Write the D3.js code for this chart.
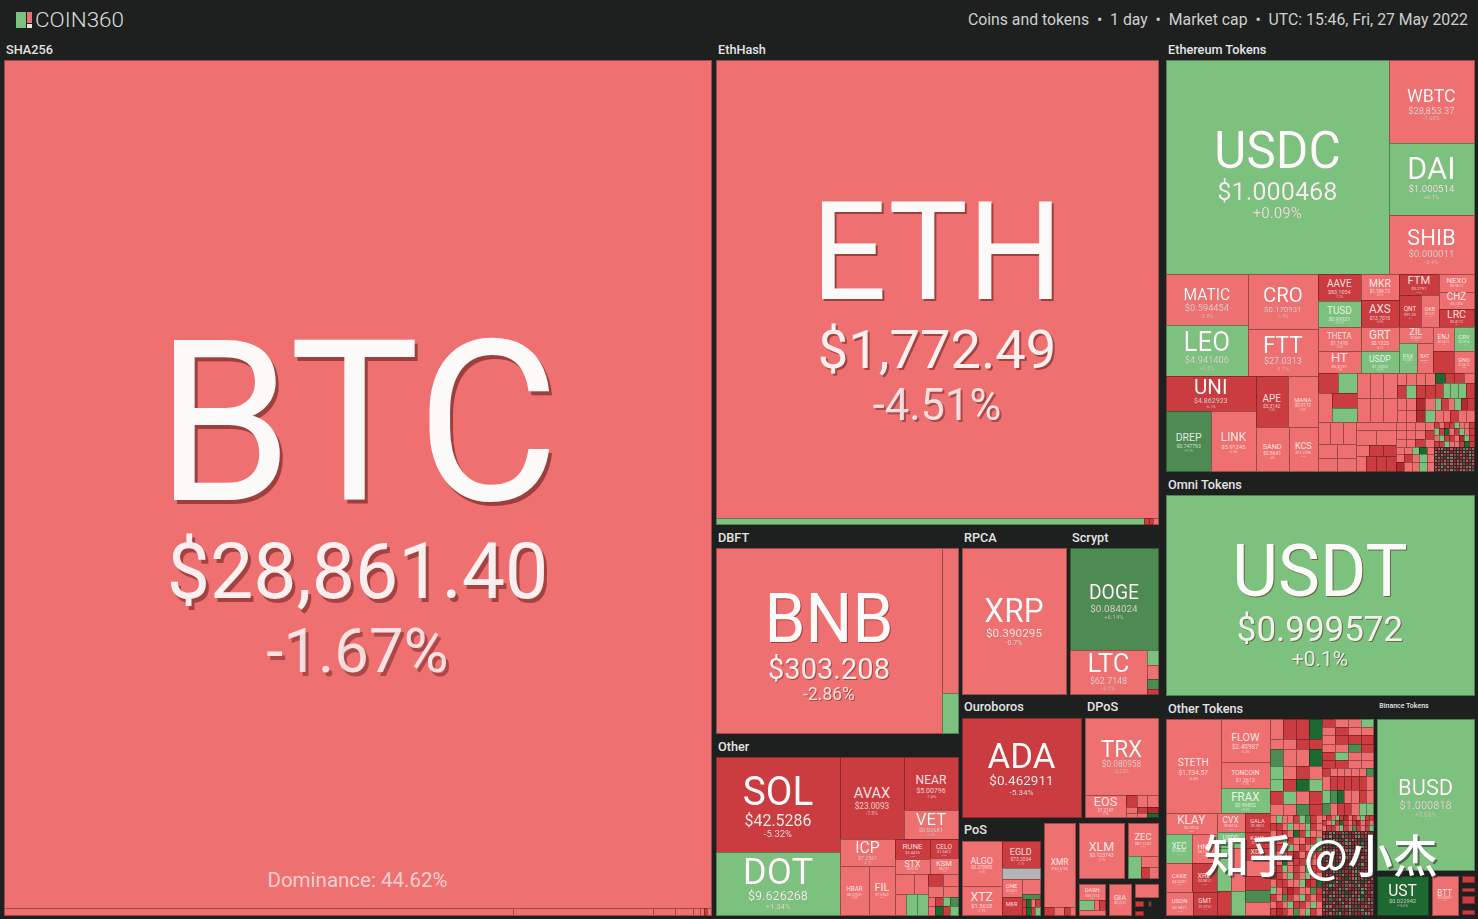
<!DOCTYPE html>
<html>
<head>
<meta charset="utf-8">
<title>COIN360 market map</title>
<script src="https://cdnjs.cloudflare.com/ajax/libs/d3/7.8.5/d3.min.js"></script>
<style>
  html,body{margin:0;padding:0;background:#1e2020;overflow:hidden}
  svg{display:block}
  text{font-family:Roboto,"Noto Sans",sans-serif}
</style>
</head>
<body>
<script>
// ---- sector sizes (market-cap units, sector box including its heading) ----
const sectorCaps = {SHA256:625848, MidColumn:395550, TokenColumn:275127, EthHash:218624, DBFT:51646, OtherCoins:44972, RPCA:18442, Scrypt:15709,
  Ouroboros:15197, DPoS:9514, PoS:8072, XMRGroup:3445, XLMGroup:3003, ZECGroup:2083, DASHGroup:1129, GIAGroup:941, TinyGroup:1015,
  EthTokens:137025, Omni:70560, OtherTokens:46938, BinanceTokens:22362, BUSDGroup:15600, USTGroup:2430, BTTGroup:1350, BinanceTiny:720};

// ---- SHA256 ----
const btcNames   = ["BTC","","","","","",];
const btcPrices  = ["$28,861.40"];
const btcChanges = [-1.67,-3.1,-2.7,-3.4,-2.2,-4.1];
const btcCaps    = [599536,3563,980,154,126,49];
const btcTailRows = ["lrl"], btcTailCaps = [26];
const dominanceLabel = "Dominance: 44.62%";

// ---- EthHash ----
const ethHashNames   = ["ETH",""];
const ethHashPrices  = ["$1,772.49"];
const ethHashChanges = [-4.51,1.2];
const ethHashCaps    = [202436,2568];
const ethHashTailRows = ["rrl"], ethHashTailCaps = [28];

// ---- DBFT ----
const dbftNames = ["BNB","NEO",""];
const dbftPrices = ["$303.208","$8.9402"];
const dbftChanges = [-2.86,-3.2,0.8];
const dbftCaps = [41810,2320,640];

// ---- RPCA / Scrypt ----
const rpcaNames=["XRP"], rpcaPrices=["$0.390295"], rpcaChanges=[-0.7], rpcaCaps=[15080];
const scryptNames=["DOGE","LTC","","","",""];
const scryptPrices=["$0.084024","$62.7148"];
const scryptChanges=[6.14,-2.1,1.1,-2.4,6.2,-5.5];
const scryptCaps=[8888,3388,165,154,110,55];

// ---- Other coins ----
const otherNames=["SOL","DOT","AVAX","NEAR","VET","ICP","HBAR","FIL","RUNE","STX","CELO","KSM","MINA","","","",""];
const otherPrices=["$42.5286","$9.626268","$23.0093","$5.00796","$0.02681","$7.2561","$0.0931","$7.6941","$2.4416","$0.6120","$1.0412","$62.27","$0.6210"];
const otherChanges=[-5.32,1.34,-7.8,-7.4,-3.6,-4.1,-3.3,-3.9,-7.5,-4.2,-6.8,-4.4,-4.3,-3.2,-2.9,1.1,0.9];
const otherCaps=[11780,7812,5248,2862,1566,1485,1421,1274,700,525,532,448,380,280,231,231,231];
const otherTailRows=["rl","ll","lrgm","lkrg"], otherTailCaps=[180,165,68,68];

// ---- Ouroboros / DPoS ----
const ouroNames=["ADA"], ouroPrices=["$0.462911"], ouroChanges=[-5.34], ouroCaps=[11662];
const dposNames=["TRX","EOS"];
const dposPrices=["$0.080958","$1.2147"];
const dposChanges=[-2.23,-3.9];
const dposCaps=[5544,902];
const dposTailRows=["rll","lrd","llk"], dposTailCaps=[128,64,43];

// ---- PoS and neighbours ----
const posNames=["ALGO","XTZ","EGLD","","ONE","MKR","","",];
const posPrices=["$0.370985","$1.5620","$73.2034","","$0.0521"];
const posChanges=[-3.3,-3.9,-7.1,"n",-3.2,-6.6,-2.7,6.3];
const posCaps=[1755,1131,1026,418,360,360,270,90];
const posTailRows=["rklr","rkrg"], posTailCaps=[36,36];
const xmrNames=["XMR","","","",""], xmrPrices=["$162.6105"], xmrChanges=[-3.1,-6.1,-2.8,-6.4,-3.3], xmrCaps=[2635,80,80,50,40];
const xlmNames=["XLM"], xlmPrices=["$0.123743"], xlmChanges=[-3.7], xlmCaps=[2475];
const zecNames=["ZEC",""], zecPrices=["$87.1253"], zecChanges=[-3.2,1.4], zecCaps=[990,286];
const zecTailRows=["l","rl"], zecTailCaps=[187,94];
const dashNames=["DASH","","","",""], dashPrices=["$53.7214"], dashChanges=[-2.9,1.3,-2.1,-6.2,-3.1], dashCaps=[442,150,50,60,130];
const giaNames=["GIA"], giaPrices=["$0.2512"], giaChanges=[-3.4], giaCaps=[672];
const tinyChanges=[-3.2,"x",-6.4,"x",-6.1,"x","x",-6.5,"x"], tinyCaps=[299,92,40,25,15,35,115,32,60];

// ---- Ethereum Tokens ----
const ethNames=["USDC","WBTC","DAI","SHIB","MATIC","LEO","CRO","FTT","UNI","DREP","LINK","APE","MANA","SAND","KCS",
  "AAVE","TUSD","MKR","AXS","FTM","QNT","OKB","NEXO","CHZ","LRC","THETA","HT","GRT","USDP","ZIL","PAX","BAT","ENJ","ANKR","CRV","GNO","SUSHI","GUSD","","",""];
const ethPrices=["$1.000468","$28,853.37","$1.000514","$0.000011","$0.594454","$4.941406","$0.170931","$27.0313","$4.862923","$0.747793","$5.91245","$5.3142","$0.9173","$0.8641","$11.2705",
  "$83.1054","$0.99921","$1,184.72","$13.7015","$0.2791","$91.20","$13.21","$0.9612","$0.1204","$0.4112","$1.1410","$5.5231","$0.1325","$1.0002","$0.0601","$1.0001","$0.3811","$0.5412","$0.0321","$0.9014","$124.12","$1.1204","$1.0003"];
const ethChanges=[0.09,-1.68,0.1,-3.4,-3.8,0.5,-1.9,-1.1,-6.2,7.1,-3.6,-7.4,-3.9,-4.0,-2.9,
  -7.2,0.1,-4.1,-6.3,-6.6,-7.0,-2.1,-3.0,-4.4,-8.0,-3.5,-1.5,-4.2,0.2,-4.6,0.1,-3.9,-4.7,-6.8,1.2,-2.6,-6.9,0.4,-2.8,-7.1,1.0];
const ethCaps=[47508,7055,6120,5015,4182,4182,3850,3290,3150,2700,2640,1632,1530,1452,1276,
  1161,1118,988,1026,840,704,576,630,595,630,1032,946,912,836,544,540,480,504,462,480,440,400,380,406,375,350];
const ethTailBRows=["lll","lll"], ethTailBCaps=[330,315];
const ethTailCRows=["llll","rgrr","lldl","lldg"], ethTailCCaps=[114,124,114,114];
const ethTailDRows=["krrl","rgggr","grlgdr","llrll"], ethTailDCaps=[98,117,78,94];
const ethTailERows=["lll","ll","ll"], ethTailECaps=[279,266,247];
const ethTailFRows=["l","ll","lrr","lrrr"], ethTailFCaps=[328,307,150,154];
const ethTailGRows=["llll","lllr","llrl","llgkl","lrlgl","dllgl"], ethTailGCaps=[76,85,76,53,60,68];
const ethTailHRows=["rlrrgllr","grklrglr","lgrrldgr","rrgllrkr",
  "rlgrdlrmrlgrl","lrrgldrlrgrlm","gdlrrlmrlrdgl","rlrkglrdrlrgr","lmrlrgdlrmlrl","drlgrlrlgrdrl","lrgdlrmrlrlgr","rlrlrgrdlgrlm"];
const ethTailHCaps=[32,32,32,32,9,9,9,9,9,9,9,9];

// ---- Omni ----
const omniNames=["USDT"], omniPrices=["$0.999572"], omniChanges=[0.1], omniCaps=[61600];

// ---- Other Tokens ----
const tokNames=["STETH","FLOW","TONCOIN","FRAX","KLAY","XEC","HNT","CAKE","XRD","USDN","GMT","CVX","GALA","USDD","KAVA","IOTA","","","","XDC","","","",""];
const tokPrices=["$1,734.57","$2.40987","$1.2612","$0.99852","$0.3914","$0.000041","$8.1225","$4.0231","$0.0812","$0.9871","$1.0722","$9.8214","$0.0812","$0.9993","$1.7221","$0.2712","","","","$0.0512"];
const tokChanges=[-4.4,-3.3,-3.1,0.3,-3.8,1.1,-3.6,-3.9,-7.3,-2.7,-7.1,-4.2,-7.2,0.2,-6.8,1.4,-3.2,-7.1,1.3,-7.0,-3.3,-7.2,6.4,-3.0];
const tokCaps=[5022,2058,1274,1225,1000,754,696,728,672,621,529,504,450,448,400,588,588,336,336,300,400,325,300,325];
const tokTail1Rows=["lrrk","llrr","mllk","glrl","grkg","rglr","llmr"], tokTail1Caps=[250,125,225,162,150,162,150];
const tokTail2Rows=["rllg","lrll","lrrr","llmr","rgll","rrll","rlllllm","lrrrrrl","gmkllrl","mlrrlgg"], tokTail2Caps=[102,102,102,102,102,102,58,95,95,88];
const tokTail3Rows=["lgllrgmrl","rrlgllgrl","lrrlkrgll","rlgrllrrg","lrrglrlgm","gllrdlrlr","rlklrrgll","lrglrlmrr","drlgrlgrl","lrrllgdrk","glrdrllmr","rlmrlgrlr","lrlgrrlgl","rdrlmlgrl"];
const tokTail3Caps=[40,40,40,40,40,40,40,40,40,40,40,40,40,40];
const tokBandRows=["lrlgrdlrlgrr","rlgrkrlrdlrl","lrrlgrlmrlrg"], tokBandCaps=[21,21,21];
const tokNoiseRows=["rdlgrrlmdrglrlrd","lrgdrklrrdlgrrml","drrlmrdgrlrdkrlr","rglrdrrlgdrrmdrl",
  "lrdkrlgrrdlrgrdr","rmrlrdrlgrdmrlrk","drglrrkdlrrgdrlr","lrrmdlrgrrkdlrgd","rgdlrrmdrglrdrml","drlrkgrdlrmrgdrl",
  "lgrdrlrdmrlkrrdg","rrdglmrrdlgrdrlr","dlrkrrgdrlmrdgrl","rgdrlrdkrlgrrmdl","lrrmgdrlrdgrkrld","drglrdrmlrrgdlrr",
  "rlkdrgrlrdmrglrd","grdlrmrkdrlrgdrl","rdlgrrlmdgrlkrdr","lrmdrgdrlrrgmdlr","drrlkrgdlrmrdrgl","rgldrrmlgdrkrlrd",
  "lrdgrkrdlmrrgdrl","drlrmgdrlkrdrglr"];
const tokNoiseCaps=[11,11,11,11,11,11,11,11,11,11,11,11,11,11,11,11,11,11,11,11,11,11,11,11];

// ---- Binance Tokens ----
const busdNames=["BUSD"], busdPrices=["$1.000818"], busdChanges=[0.08], busdCaps=[14304];
const ustNames=["UST"], ustPrices=["$0.022942"], ustChanges=[15.6], ustCaps=[1950];
const bttNames=["BTT"], bttPrices=["$0.000001"], bttChanges=[-3.3], bttCaps=[1014];
const binTinyChanges=[-6.4,"x",-6.2,"x",-6.6,"x",-6.3,"x"], binTinyCaps=[60,60,30,50,60,70,40,10];

// ---- heading text ----
const brandLabel="COIN360";
const infoLabel="Coins and tokens  •  1 day  •  Market cap  •  UTC: 15:46, Fri, 27 May 2022";
const watermarkLabel="知乎 @小杰";

// ---- colours of the change scale ----
const changeBreaks=[-10,-5,0,5,10];
const changeColors=["#b02a2f","#cb3c40","#ee7070","#7cc17e","#4d8b53","#1e6831"];
const codeChange={d:-12,r:-7,l:-3,g:1,m:7,k:12};
const noDataColor="#b4b4b4";
const color=d3.scaleThreshold().domain(changeBreaks).range(changeColors);

// ---- tree builders ----
function tail(rows,caps){
  return {dir:"v",pad:0,children:rows.map((r,i)=>({dir:"h",pad:0,
    children:Array.from(r).map(c=>({cap:caps[i],change:c}))}))};
}
function line(shape,dir,src){
  const next=dir==="h"?"v":"h";
  const kids=[];
  shape.forEach(e=>{
    if(typeof e==="number"){
      for(let k=0;k<e;k++){
        const i=src.i++;
        kids.push({name:(src.names||[])[i]||"",price:(src.prices||[])[i]||"",change:src.changes[i],cap:src.caps[i]});
      }
    } else if(Array.isArray(e)) kids.push(line(e,next,src));
    else kids.push(e);
  });
  return {dir,pad:0,children:kids};
}
function sector(label,box,dir,shape,names,prices,changes,caps){
  const n=line(shape,dir,{i:0,names,prices,changes,caps});
  n.label=label; n.box=box;
  return n;
}
function stack(dir,pad,children,extra){return Object.assign({dir,pad,children},extra||{});}

// ---- shapes: nesting alternates direction, numbers take that many leaves ----
const btcShape=[1,[5,tail(btcTailRows,btcTailCaps)]];
const ethHashShape=[1,[1,tail(ethHashTailRows,ethHashTailCaps)]];
const ethShape=[
  [1,[3]],
  [
    [[[2],[2]],[[1,[2]],[[2],[2]]]],
    [
      [[2],[2],[1,[2]],[3]],
      [[2],[2],[1,[2]],[2],[2]],
      [[[2],[1,[2]]],tail(ethTailBRows,ethTailBCaps),tail(ethTailCRows,ethTailCCaps),tail(ethTailDRows,ethTailDCaps)],
      [tail(ethTailERows,ethTailECaps),tail(ethTailFRows,ethTailFCaps),tail(ethTailGRows,ethTailGCaps),tail(ethTailHRows,ethTailHCaps)]
    ]
  ]
];
const otherShape=[[2],[[1,[2]],[[1,[2]],[[[2],[2]],[[[2],[3]],tail(otherTailRows,otherTailCaps)]]]]];
const tokShape=[
  [[1,[3]],[[1,[2],[2],[2]],[[2],[2],[[[2],[2]],[5]]]]],
  [[tail(tokTail1Rows,tokTail1Caps),tail(tokTail2Rows,tokTail2Caps)],
   [tail(tokTail3Rows,tokTail3Caps),[tail(tokBandRows,tokBandCaps),tail(tokNoiseRows,tokNoiseCaps)]]]
];

const root=stack("h",5,[
  sector("SHA256",sectorCaps.SHA256,"v",btcShape,btcNames,btcPrices,btcChanges,btcCaps),
  stack("v",6,[
    sector("EthHash",sectorCaps.EthHash,"v",ethHashShape,ethHashNames,ethHashPrices,ethHashChanges,ethHashCaps),
    stack("h",4,[
      stack("v",6,[
        sector("DBFT",sectorCaps.DBFT,"h",[1,[2]],dbftNames,dbftPrices,dbftChanges,dbftCaps),
        sector("Other",sectorCaps.OtherCoins,"h",otherShape,otherNames,otherPrices,otherChanges,otherCaps)
      ]),
      stack("v",6,[
        stack("h",4,[
          sector("RPCA",sectorCaps.RPCA,"h",[1],rpcaNames,rpcaPrices,rpcaChanges,rpcaCaps),
          sector("Scrypt",sectorCaps.Scrypt,"v",[1,[1,[4]]],scryptNames,scryptPrices,scryptChanges,scryptCaps)
        ]),
        stack("h",4,[
          sector("Ouroboros",sectorCaps.Ouroboros,"h",[1],ouroNames,ouroPrices,ouroChanges,ouroCaps),
          sector("DPoS",sectorCaps.DPoS,"v",[1,[1,tail(dposTailRows,dposTailCaps)]],dposNames,dposPrices,dposChanges,dposCaps)
        ]),
        stack("h",4,[
          sector("PoS",sectorCaps.PoS,"h",[[2],[2,[[2],[2,tail(posTailRows,posTailCaps)]]]],posNames,posPrices,posChanges,posCaps),
          sector("",sectorCaps.XMRGroup,"v",[1,[4]],xmrNames,xmrPrices,xmrChanges,xmrCaps),
          stack("v",6,[
            stack("h",4,[
              sector("",sectorCaps.XLMGroup,"h",[1],xlmNames,xlmPrices,xlmChanges,xlmCaps),
              sector("",sectorCaps.ZECGroup,"v",[1,[1,tail(zecTailRows,zecTailCaps)]],zecNames,zecPrices,zecChanges,zecCaps)
            ]),
            stack("h",4,[
              sector("",sectorCaps.DASHGroup,"v",[1,[3],1],dashNames,dashPrices,dashChanges,dashCaps),
              sector("",sectorCaps.GIAGroup,"h",[1],giaNames,giaPrices,giaChanges,giaCaps),
              sector("",sectorCaps.TinyGroup,"v",[1,1,[4],1,[2]],[],[],tinyChanges,tinyCaps)
            ])
          ])
        ])
      ])
    ])
  ],{box:sectorCaps.MidColumn,padR:3}),
  stack("v",6,[
    sector("Ethereum Tokens",sectorCaps.EthTokens,"v",ethShape,ethNames,ethPrices,ethChanges,ethCaps),
    sector("Omni Tokens",sectorCaps.Omni,"h",[1],omniNames,omniPrices,omniChanges,omniCaps),
    stack("h",4,[
      sector("Other Tokens",sectorCaps.OtherTokens,"h",tokShape,tokNames,tokPrices,tokChanges,tokCaps),
      stack("v",6,[
        sector("",sectorCaps.BUSDGroup,"h",[1],busdNames,busdPrices,busdChanges,busdCaps),
        stack("h",4,[
          sector("",sectorCaps.USTGroup,"h",[1],ustNames,ustPrices,ustChanges,ustCaps),
          sector("",sectorCaps.BTTGroup,"h",[1],bttNames,bttPrices,bttChanges,bttCaps),
          sector("",sectorCaps.BinanceTiny,"v",[8],[],[],binTinyChanges,binTinyCaps)
        ])
      ],{label:"Binance Tokens",box:sectorCaps.BinanceTokens,small:true})
    ])
  ],{box:sectorCaps.TokenColumn})
]);

// ---- layout ----
const W=1478,H=919,originX=4,originY=42,mapW=1470,mapH=873,headH=18;
const tree=d3.hierarchy(root,d=>d.children);
tree.eachAfter(n=>{
  n.value=n.data.box!==undefined?n.data.box:(n.data.cap!==undefined?n.data.cap:d3.sum(n.children,c=>c.value));
});
function tile(parent,x0,y0,x1,y1){
  const keep=parent.value;
  parent.value=d3.sum(parent.children,c=>c.value);
  (parent.data.dir==="h"?d3.treemapDice:d3.treemapSlice)(parent,x0,y0,x1,y1);
  parent.value=keep;
}
d3.treemap().tile(tile).size([mapW,mapH])
  .paddingInner(d=>d.data.pad||0)
  .paddingRight(d=>d.data.padR||0)
  .paddingTop(d=>d.data.label?headH:0)(tree);

// ---- drawing ----
const svg=d3.select("body").append("svg").attr("width",W).attr("height",H);
svg.append("rect").attr("width",W).attr("height",H).attr("fill","#1e2020");

const cellFill=d=>{
  const c=d.data.change;
  if(c==="n") return noDataColor;
  return color(typeof c==="string"?codeChange[c]:c);
};
const isSpeck=d=>(d.x1-d.x0)*(d.y1-d.y0)<16;
const map=svg.append("g").attr("transform",`translate(${originX},${originY})`);
const leaves=tree.leaves().filter(d=>d.data.change!=="x");
map.append("g").selectAll("rect").data(leaves).join("rect")
  .attr("x",d=>Math.round(d.x0)).attr("y",d=>Math.round(d.y0))
  .attr("width",d=>Math.round(d.x1)-Math.round(d.x0))
  .attr("height",d=>Math.round(d.y1)-Math.round(d.y0))
  .attr("fill",cellFill)
  .attr("fill-opacity",d=>isSpeck(d)?0.72:1)
  .attr("stroke",d=>isSpeck(d)?"#332b2b":d3.color(cellFill(d)).darker(1.15).formatHex())
  .attr("stroke-width",1)
  .attr("shape-rendering","crispEdges");

// sector headings
const heads=tree.descendants().filter(d=>d.data.label);
map.append("g").selectAll("text").data(heads).join("text")
  .attr("x",d=>d.x0+2)
  .attr("y",d=>d.y0+(d.data.small?7:11.5))
  .attr("font-size",d=>d.data.small?7:12.7)
  .attr("font-weight",500)
  .attr("fill","#e4e4e4")
  .text(d=>d.data.label);

// cell labels
const ctx=document.createElement("canvas").getContext("2d");
const squeeze=0.97, nameWeight=400;
function unitWidth(t){ctx.font=`${nameWeight} 100px Roboto`;return ctx.measureText(t).width/100;}
const fmtChange=c=>(c>0?"+":"")+c+"%";
const labelled=leaves.filter(d=>d.data.name);
map.append("g").selectAll("g").data(labelled).join("g")
  .each(function(d){
    const w=d.x1-d.x0,h=d.y1-d.y0,cx=(d.x0+d.x1)/2,cy=(d.y0+d.y1)/2;
    const unit=unitWidth(d.data.name);
    const s=Math.min(0.57*w/(unit*squeeze),0.6*h);
    const g=d3.select(this);
    if(s<5) return;
    if(s>=16) g.style("filter",`drop-shadow(${(s*0.016).toFixed(1)}px ${(s*0.018).toFixed(1)}px 0 rgba(90,20,20,.55))`);
    const nameBase=cy+s*(s>=120?0.07:0.02);
    g.append("text").attr("x",cx).attr("y",nameBase).attr("text-anchor","middle")
      .attr("font-size",s).attr("font-weight",nameWeight).attr("fill","#fff").attr("fill-opacity",s>=16?0.97:0.85)
      .attr("textLength",unit*s*squeeze).attr("lengthAdjust","spacingAndGlyphs")
      .text(d.data.name);
    let p=s*0.33, base=nameBase;
    if(d.data.price){
      p=Math.min(0.54*w/unitWidth(d.data.price),0.2*h);
      base=nameBase+1.27*p;
      g.append("text").attr("x",cx).attr("y",base).attr("text-anchor","middle")
        .attr("font-size",p).attr("fill","#fff").attr("fill-opacity",s>=30?0.9:0.75)
        .text(d.data.price);
    }
    const c=p*(s>=120?0.8:0.6);
    g.append("text").attr("x",cx).attr("y",base+1.2*c).attr("text-anchor","middle")
      .attr("font-size",c).attr("fill","#fff").attr("fill-opacity",s>=30?0.8:0.6)
      .text(fmtChange(d.data.change));
  });

// dominance note
const btcLeaf=leaves[0];
map.append("text").attr("x",(btcLeaf.x0+btcLeaf.x1)/2).attr("y",btcLeaf.y1-21)
  .attr("text-anchor","middle").attr("font-size",20.5).attr("fill","#fff").attr("fill-opacity",.68)
  .text(dominanceLabel);

// top bar
const topBar=svg.append("g");
topBar.append("rect").attr("x",16).attr("y",12).attr("width",10).attr("height",16).attr("fill","#7cc17e");
topBar.append("rect").attr("x",27).attr("y",12).attr("width",5).attr("height",11).attr("fill","#ee7070");
topBar.append("rect").attr("x",27).attr("y",24).attr("width",5).attr("height",4).attr("fill","#e8e8e8");
topBar.append("text").attr("x",35).attr("y",27).attr("font-size",20).attr("font-weight",300).attr("fill","#dcdcdc")
  .attr("textLength",89).attr("lengthAdjust","spacingAndGlyphs").text(brandLabel);
topBar.append("text").attr("x",1468).attr("y",24.5).attr("text-anchor","end").attr("font-size",15.8).attr("fill","#cfcfcf")
  .style("white-space","pre").text(infoLabel);

// watermark
svg.append("text").attr("x",1204).attr("y",873).attr("font-size",45).attr("font-weight",500)
  .attr("fill","#fff").style("font-family",'"Noto Sans CJK SC"')
  .style("filter","drop-shadow(2px 2px 0 rgba(40,40,40,.55))")
  .text(watermarkLabel);
</script>
</body>
</html>
